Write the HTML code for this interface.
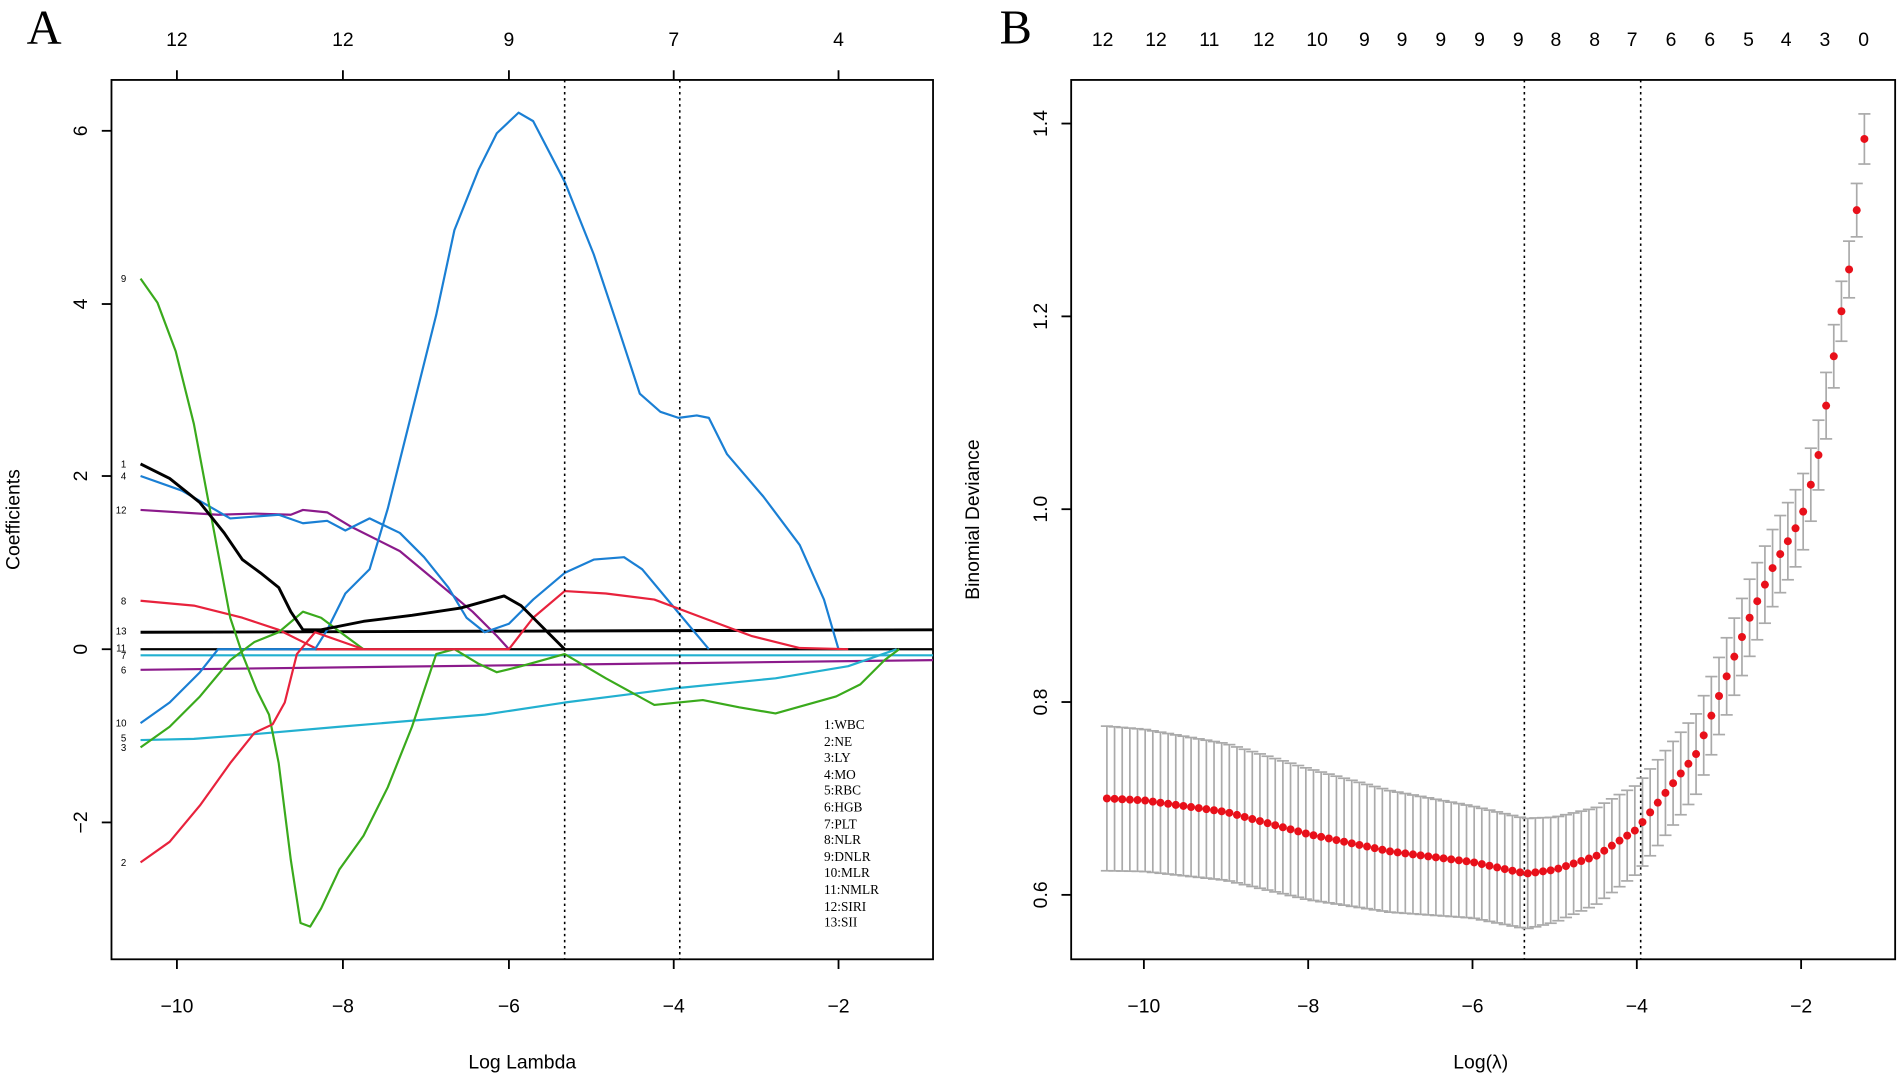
<!DOCTYPE html>
<html><head><meta charset="utf-8"><style>
html,body{margin:0;padding:0;background:#fff;}
svg{display:block;}
text{font-family:"Liberation Sans",Arial,sans-serif;fill:#000;}
.serif{font-family:"Liberation Serif","DejaVu Serif",serif;}
</style></head><body>
<svg id="s" width="1900" height="1078" viewBox="0 0 1568 890" preserveAspectRatio="none" xmlns="http://www.w3.org/2000/svg">
<!-- Panel A -->
<text x="22" y="36" font-size="40" class="serif">A</text>
<rect x="92" y="66" width="678" height="726" fill="none" stroke="#000" stroke-width="1.5"/>
<g stroke="#000" stroke-width="1.5">
<line x1="146" y1="792" x2="146" y2="800"/><line x1="283" y1="792" x2="283" y2="800"/><line x1="420" y1="792" x2="420" y2="800"/><line x1="556" y1="792" x2="556" y2="800"/><line x1="692" y1="792" x2="692" y2="800"/>
<line x1="146" y1="66" x2="146" y2="58"/><line x1="283" y1="66" x2="283" y2="58"/><line x1="420" y1="66" x2="420" y2="58"/><line x1="556" y1="66" x2="556" y2="58"/><line x1="692" y1="66" x2="692" y2="58"/>
<line x1="92" y1="108" x2="84" y2="108"/><line x1="92" y1="251" x2="84" y2="251"/><line x1="92" y1="393" x2="84" y2="393"/><line x1="92" y1="536" x2="84" y2="536"/><line x1="92" y1="679" x2="84" y2="679"/>
</g>
<g font-size="16" text-anchor="middle">
<text x="146" y="836">−10</text><text x="283" y="836">−8</text><text x="420" y="836">−6</text><text x="556" y="836">−4</text><text x="692" y="836">−2</text>
<text x="146" y="38">12</text><text x="283" y="38">12</text><text x="420" y="38">9</text><text x="556" y="38">7</text><text x="692" y="38">4</text>
<text transform="translate(72,108) rotate(-90)">6</text><text transform="translate(72,251) rotate(-90)">4</text><text transform="translate(72,393) rotate(-90)">2</text><text transform="translate(72,536) rotate(-90)">0</text><text transform="translate(72,679) rotate(-90)">−2</text>
<text x="431" y="882">Log Lambda</text>
<text transform="translate(16,429) rotate(-90)">Coefficients</text>
</g>
<g font-size="8" text-anchor="middle">
<text x="102" y="233">9</text><text x="102" y="386">1</text><text x="102" y="396">4</text><text x="100" y="424">12</text><text x="102" y="499">8</text><text x="100" y="524">13</text><text x="100" y="538">11</text><text x="102" y="544">7</text><text x="102" y="556">6</text><text x="100" y="600">10</text><text x="102" y="612">5</text><text x="102" y="620">3</text><text x="102" y="715">2</text>
</g>
<g font-size="11" class="serif">
<text x="680" y="602" class="serif">1:WBC</text><text x="680" y="616" class="serif">2:NE</text><text x="680" y="629" class="serif">3:LY</text><text x="680" y="643" class="serif">4:MO</text><text x="680" y="656" class="serif">5:RBC</text><text x="680" y="670" class="serif">6:HGB</text><text x="680" y="684" class="serif">7:PLT</text><text x="680" y="697" class="serif">8:NLR</text><text x="680" y="711" class="serif">9:DNLR</text><text x="680" y="724" class="serif">10:MLR</text><text x="680" y="738" class="serif">11:NMLR</text><text x="680" y="752" class="serif">12:SIRI</text><text x="680" y="765" class="serif">13:SII</text>
</g>
<g fill="none" stroke-width="1.8" stroke-linejoin="round">
<polyline stroke="#000" points="116,536 770,536"/>
<polyline stroke="#000" stroke-width="2.4" points="116,522 770,520"/>
<polyline stroke="#22b0d0" points="116,541 770,541"/>
<polyline stroke="#8b1a8b" points="116,553 770,545"/>
<polyline stroke="#22b0d0" points="116,611 160,610 200,607 280,600 400,590 466,580 560,568 640,560 700,550 740,536"/>
<polyline stroke="#e8223c" points="116,496 160,500 200,510 230,520 250,530 262,536 300,536"/>
<polyline stroke="#8b1a8b" points="116,421 180,425 210,424 240,425 250,421 270,423 290,435 330,455 360,480 390,505 410,525 420,536"/>
<polyline stroke="#1a7fd4" points="116,393 150,405 190,428 230,425 250,432 270,430 285,438 305,428 330,440 350,460 370,485 385,510 400,522 420,515 440,495 466,473 490,462 515,460 530,470 555,500 585,536"/>
<polyline stroke="#1a7fd4" points="116,597 140,580 165,555 180,536 260,536 270,520 285,490 305,470 320,420 340,340 360,260 375,190 395,140 410,110 428,93 440,100 466,150 490,210 510,270 528,325 545,340 560,345 575,343 585,345 600,375 630,410 660,450 680,495 692,536"/>
<polyline stroke="#3aaa1c" points="116,617 140,600 165,575 190,545 210,530 230,522 250,505 265,510 285,525 300,536"/>
<polyline stroke="#3aaa1c" points="116,230 130,250 145,290 160,350 175,430 190,510 200,540 212,570 222,590 230,630 240,710 248,762 256,765 265,750 280,718 300,690 320,650 340,600 360,540 375,536 395,548 410,555 430,550 466,540 500,560 540,582 580,578 610,584 640,589 665,582 690,575 710,565 730,545 742,536"/>
<polyline stroke="#e8223c" points="116,712 140,695 165,665 190,630 210,605 225,598 235,580 245,540 260,522 300,536 420,536 440,510 466,488 500,490 540,495 580,510 620,525 660,535 700,536"/>
<polyline stroke="#000" stroke-width="2.4" points="116,383 140,395 165,415 185,440 200,462 215,473 230,485 240,505 250,520 265,520 300,513 340,508 380,502 416,492 430,500 450,520 466,536"/>
</g>
<g stroke="#000" stroke-width="1.3" stroke-dasharray="2,3">
<line x1="466" y1="66" x2="466" y2="792"/><line x1="561" y1="66" x2="561" y2="792"/>
</g>
<!-- Panel B -->
<text x="825" y="36" font-size="40" class="serif">B</text>
<rect x="884" y="66" width="680" height="726" fill="none" stroke="#000" stroke-width="1.5"/>
<g id="bticks" stroke="#000" stroke-width="1.5"></g>
<g id="blabels" font-size="16" text-anchor="middle"></g>
<g stroke="#000" stroke-width="1.3" stroke-dasharray="2,3">
<line x1="1258" y1="66" x2="1258" y2="792"/><line x1="1354" y1="66" x2="1354" y2="792"/>
</g>
<g id="bars" stroke="#aaa" stroke-width="1.4"></g>
<g id="dots" fill="#e8101a"></g>
</svg>
<script>
var NS="http://www.w3.org/2000/svg";
function el(p,t,a,txt){var e=document.createElementNS(NS,t);for(var k in a)e.setAttribute(k,a[k]);if(txt!=null)e.textContent=txt;document.getElementById(p).appendChild(e);}
function X(v){return 944+(v+10)*67.8;}
function Y(v){return 102+(1.4-v)*796;}
[-10,-8,-6,-4,-2].forEach(function(v){var x=X(v);el("bticks","line",{x1:x,y1:792,x2:x,y2:800});el("blabels","text",{x:x,y:836},"−"+(-v));});
[0.6,0.8,1.0,1.2,1.4].forEach(function(v){var y=Y(v);el("bticks","line",{x1:884,y1:y,x2:876,y2:y});el("blabels","text",{transform:"translate(864,"+y+") rotate(-90)"},v.toFixed(1));});
var tl=[12,12,11,12,10,9,9,9,9,9,8,8,7,6,6,5,4,3,0],tx=[910,954,998,1043,1087,1126,1157,1189,1221,1253,1284,1316,1347,1379,1411,1443,1474,1506,1538];
tl.forEach(function(t,i){el("blabels","text",{x:tx[i],y:38},t);});
el("blabels","text",{x:1222,y:882},"Log(λ)");
el("blabels","text",{transform:"translate(808,429) rotate(-90)"},"Binomial Deviance");
var M=[[-10.45,0.700],[-10,0.698],[-9,0.686],[-8,0.663],[-7,0.645],[-6,0.634],[-5.35,0.622],[-5.0,0.626],[-4.5,0.640],[-4,0.668],[-3.27,0.747],[-2.64,0.885],[-2.32,0.944],[-2,0.99],[-1.8,1.05],[-1.6,1.16],[-1.5,1.21],[-1.37,1.27],[-1.3,1.33],[-1.23,1.384]];
var S=[[-10.45,0.075],[-8,0.068],[-6,0.058],[-5.3,0.057],[-4,0.046],[-3,0.04],[-2,0.04],[-1.23,0.026]];
function interp(T,v){for(var i=0;i<T.length-1;i++){if(v<=T[i+1][0]){var a=T[i],b=T[i+1],f=(v-a[0])/(b[0]-a[0]);return a[1]+f*(b[1]-a[1]);}}return T[T.length-1][1];}
var N=100;
for(var i=0;i<N;i++){var v=-10.45+i*(9.22/(N-1));var m=interp(M,v),s=interp(S,v);var x=X(v),y1=Y(m+s),y2=Y(m-s);
el("bars","line",{x1:x,y1:y1,x2:x,y2:y2});el("bars","line",{x1:x-5,y1:y1,x2:x+5,y2:y1});el("bars","line",{x1:x-5,y1:y2,x2:x+5,y2:y2});}
for(var i=0;i<N;i++){var v=-10.45+i*(9.22/(N-1));el("dots","circle",{cx:X(v),cy:Y(interp(M,v)),r:3.3});}
</script>
</body></html>
